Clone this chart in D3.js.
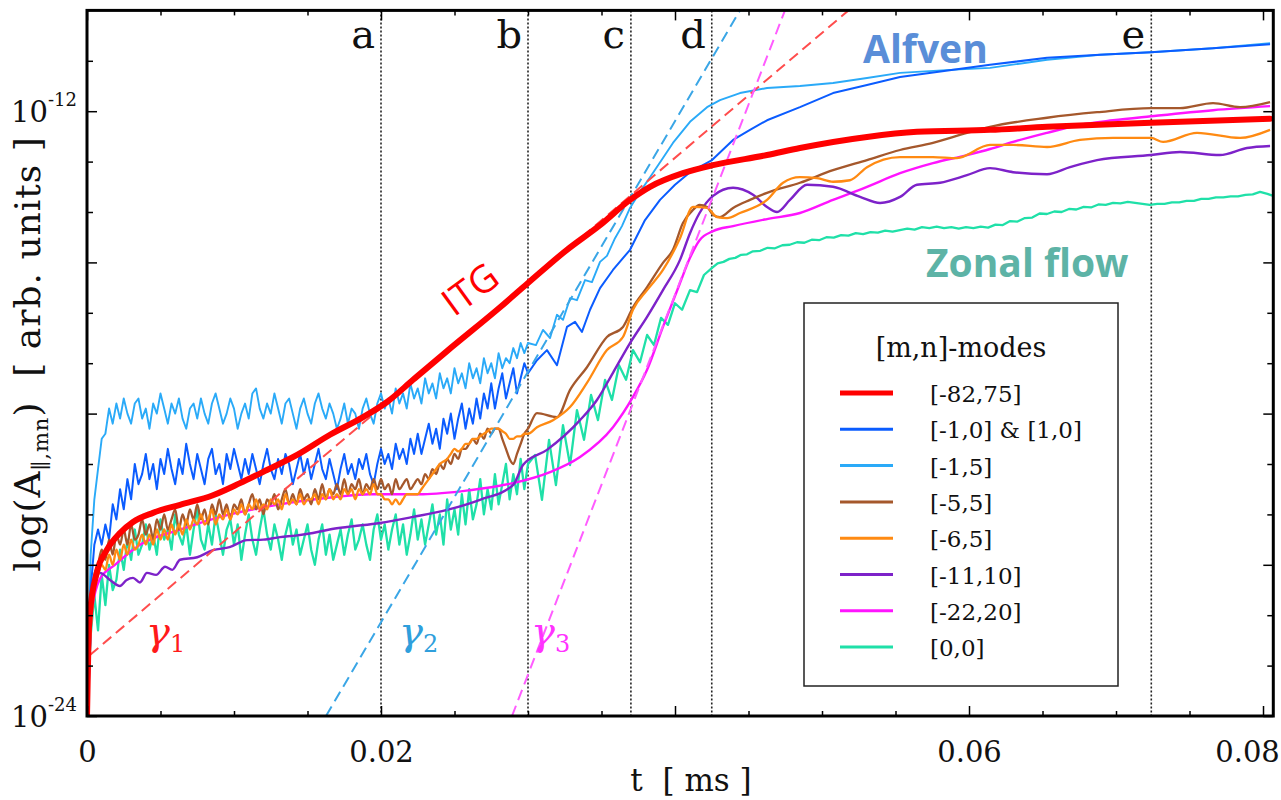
<!DOCTYPE html>
<html><head><meta charset="utf-8">
<script src="https://cdn.jsdelivr.net/npm/d3@7"></script>
<style>body{margin:0;background:#fff;} svg{display:block;}</style>
</head><body>
<svg id="chart" width="1281" height="800"></svg>
<script>
// ---------------- DATA (t in ms, values as log10 of A) ----------------
const tFine = [
0,0.00025,0.0005,0.00075,0.001,0.00125,0.0015,0.00175,0.002,0.00225,
0.0025,0.00275,0.003,0.00325,0.0035,0.00375,0.004,0.00425,0.0045,0.00475,
0.005,0.00525,0.0055,0.00575,0.006,0.00625,0.0065,0.00675,0.007,0.00725,
0.0075,0.00775,0.008,0.00825,0.0085,0.00875,0.009,0.00925,0.0095,0.00975,
0.01,0.01025,0.0105,0.01075,0.011,0.01125,0.0115,0.01175,0.012,0.01225,
0.0125,0.01275,0.013,0.01325,0.0135,0.01375,0.014,0.01425,0.0145,0.01475,
0.015,0.01525,0.0155,0.01575,0.016,0.01625,0.0165,0.01675,0.017,0.01725,
0.0175,0.01775,0.018,0.01825,0.0185,0.01875,0.019,0.01925,0.0195,0.01975,
0.02,0.02025,0.0205,0.02075,0.021,0.02125,0.0215,0.02175,0.022,0.02225,
0.0225,0.02275,0.023,0.02325,0.0235,0.02375,0.024,0.02425,0.0245,0.02475,
0.025,0.02525,0.0255,0.02575,0.026,0.02625,0.0265,0.02675,0.027,0.02725,
0.0275,0.02775,0.028,0.02825,0.0285,0.02875,0.029,0.02925,0.0295,0.02975,
0.03];

const lightBlueEarly = [
-24.0,-20.8,-19.7,-19.1,-18.5,-18.4,-17.9,-18.2,-17.8,-18.1,
-17.7,-18.0,-18.2,-17.8,-17.7,-18.1,-17.9,-18.3,-17.8,-18.0,
-17.6,-17.9,-18.2,-17.8,-18.0,-17.7,-18.1,-18.3,-17.9,-17.8,
-18.1,-17.7,-18.0,-18.2,-17.8,-17.6,-17.9,-18.2,-18.0,-17.7,
-17.9,-18.3,-18.0,-17.8,-18.1,-17.6,-17.5,-17.9,-18.1,-17.8,
-18.0,-17.6,-17.9,-18.2,-17.8,-17.7,-18.0,-18.3,-17.9,-17.7,
-18.0,-18.2,-17.8,-17.6,-17.9,-18.1,-17.8,-18.0,-18.3,-18.1,
-17.8,-18.2,-17.9,-18.0,-18.3,-17.9,-17.7,-18.0,-18.2,-17.8,
-17.6,-17.9,-17.7,-18.0,-17.5,-17.8,-17.6,-17.9,-17.4,-17.7,
-17.5,-17.8,-17.3,-17.6,-17.4,-17.7,-17.2,-17.5,-17.3,-17.6,
-17.1,-17.4,-17.2,-17.5,-17.0,-17.3,-17.1,-17.4,-16.9,-17.2,
-17.0,-17.3,-16.8,-17.1,-16.9,-17.0,-16.7,-16.9,-16.6,-16.8,
-16.6];
const lightBlueLate = [[0.03054,-16.64],[0.03102,-16.34],[0.0315,-16.50],[0.03197,-16.04],[0.03238,-16.14],[0.03286,-15.71],[0.03333,-15.75],[0.03388,-15.35],[0.03435,-15.39],[0.0349,-14.99],[0.03537,-14.87],[0.03592,-14.52],[0.03639,-14.28],[0.03694,-13.92],[0.03762,-13.60],[0.0383,-13.31],[0.03918,-12.93],[0.03986,-12.63],[0.04102,-12.21],[0.04218,-11.92],[0.04306,-11.78],[0.04442,-11.64],[0.04626,-11.54],[0.0485,-11.50],[0.05075,-11.44],[0.05306,-11.34],[0.05531,-11.24],[0.05871,-11.18],[0.06143,-11.14],[0.06531,-10.98],[0.06891,-10.88],[0.07238,-10.83],[0.0766,-10.75],[0.08048,-10.65]];

const blueEarly = [
-24.0,-21.5,-20.6,-20.3,-20.6,-20.2,-20.5,-19.8,-20.1,-19.5,
-19.9,-19.3,-19.7,-19.0,-19.4,-19.2,-18.8,-19.3,-19.0,-19.5,
-18.9,-19.2,-18.7,-19.1,-19.4,-18.9,-19.2,-18.6,-19.0,-19.3,
-18.8,-19.1,-19.4,-18.9,-18.7,-19.2,-19.0,-19.4,-18.8,-19.1,
-18.7,-19.0,-19.3,-18.9,-19.2,-18.8,-19.1,-19.4,-19.0,-18.7,
-19.1,-19.3,-18.9,-19.2,-18.8,-19.0,-19.4,-19.1,-18.8,-19.2,
-18.9,-19.3,-19.0,-18.7,-19.1,-19.3,-18.9,-19.2,-19.5,-19.1,
-18.8,-19.2,-19.0,-19.3,-18.9,-19.1,-18.8,-19.2,-19.4,-19.0,
-18.7,-19.0,-18.8,-19.1,-18.6,-18.9,-18.7,-19.0,-18.5,-18.8,
-18.4,-18.8,-18.5,-18.2,-18.6,-18.3,-18.7,-18.1,-18.4,-18.0,
-18.5,-18.1,-17.8,-18.3,-17.9,-18.2,-17.7,-18.1,-17.6,-17.9,
-17.4,-17.9,-17.5,-17.2,-17.7,-17.4,-17.1,-17.6,-17.3,-17.0,
-17.2];
const blueLate = [[0.03061,-16.94],[0.03129,-16.74],[0.03197,-17.04],[0.03265,-16.28],[0.0332,-16.18],[0.03367,-16.38],[0.03422,-15.94],[0.0349,-15.51],[0.03578,-15.15],[0.03694,-14.75],[0.03796,-14.16],[0.03898,-13.76],[0.04,-13.46],[0.04102,-13.21],[0.04252,-12.97],[0.04395,-12.57],[0.0451,-12.37],[0.04626,-12.18],[0.0485,-11.92],[0.05075,-11.64],[0.05306,-11.48],[0.05531,-11.32],[0.06143,-11.08],[0.06531,-10.94],[0.06891,-10.88],[0.07238,-10.83],[0.0766,-10.75],[0.08048,-10.67]];

const brownEarly = [
-24.0,-22.0,-21.2,-21.0,-20.7,-20.9,-20.5,-20.8,-20.4,-20.6,
-20.3,-20.6,-20.2,-20.5,-20.4,-20.1,-20.4,-20.2,-20.5,-20.1,
-20.3,-20.0,-20.3,-20.1,-19.9,-20.3,-20.0,-20.2,-19.9,-20.1,
-19.8,-20.1,-19.9,-20.2,-19.8,-20.0,-19.7,-20.0,-19.8,-20.1,
-19.8,-19.9,-19.7,-20.0,-19.8,-19.6,-19.9,-19.7,-20.0,-19.7,
-19.8,-19.6,-19.9,-19.7,-19.5,-19.8,-19.6,-19.8,-19.5,-19.7,
-19.6,-19.8,-19.5,-19.7,-19.4,-19.7,-19.5,-19.6,-19.4,-19.6,
-19.3,-19.6,-19.4,-19.5,-19.3,-19.6,-19.4,-19.5,-19.3,-19.5,
-19.3,-19.5,-19.4,-19.6,-19.3,-19.5,-19.4,-19.3,-19.5,-19.4,
-19.3,-19.4,-19.2,-19.3,-19.1,-19.2,-19.0,-19.1,-18.9,-19.0,
-18.8,-18.9,-18.7,-18.7,-18.6,-18.5,-18.6,-18.4,-18.5,-18.3,
-18.4,-18.3,-18.3,-18.5,-18.7,-18.9,-19.0,-18.8,-18.6,-18.4,
-18.3];
const brownLate = [[0.03061,-17.99],[0.03197,-18.07],[0.03286,-17.53],[0.03401,-17.08],[0.03537,-16.48],[0.03646,-16.28],[0.03714,-15.89],[0.0381,-15.49],[0.03918,-15.01],[0.03986,-14.75],[0.04054,-14.22],[0.04122,-13.96],[0.04167,-13.86],[0.04218,-13.90],[0.04259,-14.06],[0.04306,-14.10],[0.04395,-13.92],[0.0451,-13.76],[0.04626,-13.62],[0.0485,-13.42],[0.05075,-13.17],[0.05306,-12.97],[0.05531,-12.77],[0.05755,-12.63],[0.05986,-12.43],[0.06143,-12.31],[0.06531,-12.13],[0.06871,-12.02],[0.07238,-11.94],[0.07435,-11.94],[0.0766,-11.84],[0.07844,-11.92],[0.08048,-11.82]];

const orangeEarly = [
-24.0,-22.3,-21.5,-21.2,-21.0,-21.1,-20.8,-21.0,-20.7,-20.9,
-20.6,-20.8,-20.5,-20.7,-20.6,-20.4,-20.6,-20.4,-20.6,-20.3,
-20.5,-20.3,-20.5,-20.2,-20.4,-20.2,-20.4,-20.1,-20.3,-20.1,
-20.2,-20.0,-20.2,-20.1,-19.9,-20.2,-20.0,-20.1,-19.9,-20.1,
-19.9,-20.0,-19.8,-20.0,-19.8,-19.9,-19.7,-19.9,-19.8,-19.9,
-19.7,-19.8,-19.7,-19.9,-19.6,-19.8,-19.7,-19.8,-19.6,-19.8,
-19.7,-19.7,-19.6,-19.8,-19.6,-19.7,-19.5,-19.7,-19.6,-19.7,
-19.5,-19.6,-19.5,-19.7,-19.5,-19.6,-19.5,-19.6,-19.4,-19.6,
-19.6,-19.7,-19.7,-19.8,-19.7,-19.8,-19.7,-19.6,-19.6,-19.6,
-19.6,-19.5,-19.4,-19.3,-19.2,-19.1,-19.0,-18.95,-18.9,-18.8,
-18.7,-18.75,-18.7,-18.6,-18.6,-18.5,-18.5,-18.45,-18.4,-18.35,
-18.3,-18.3,-18.3,-18.35,-18.4,-18.5,-18.5,-18.45,-18.45,-18.4,
-18.4];
const orangeLate = [[0.03061,-18.27],[0.0317,-18.13],[0.03286,-17.87],[0.03401,-17.39],[0.03537,-16.74],[0.03646,-16.48],[0.03714,-15.94],[0.0381,-15.55],[0.03918,-15.15],[0.04034,-14.52],[0.04122,-13.90],[0.04218,-13.92],[0.04286,-14.10],[0.04354,-14.12],[0.04442,-14.02],[0.04626,-13.76],[0.04735,-13.42],[0.0485,-13.31],[0.04966,-13.33],[0.05075,-13.40],[0.0519,-13.37],[0.05306,-13.11],[0.05531,-12.91],[0.05755,-12.91],[0.05918,-12.93],[0.06143,-12.67],[0.063,-12.67],[0.06531,-12.71],[0.06755,-12.57],[0.0698,-12.53],[0.07238,-12.53],[0.0732,-12.61],[0.07551,-12.43],[0.07844,-12.53],[0.08048,-12.37]];

const tealEarly = [
-24.0,-22.4,-21.6,-22.3,-21.2,-21.8,-21.0,-21.5,-21.3,-20.7,
-21.1,-20.5,-20.9,-20.3,-20.8,-20.6,-20.2,-20.7,-20.4,-20.8,
-20.1,-20.5,-20.3,-20.7,-20.0,-20.4,-20.6,-20.2,-20.8,-20.3,
-19.9,-20.5,-20.7,-20.2,-20.6,-20.0,-20.4,-20.8,-20.3,-20.1,
-20.6,-20.2,-20.9,-20.4,-20.0,-20.5,-20.8,-20.3,-19.9,-20.4,
-20.7,-20.2,-20.5,-20.9,-20.4,-20.1,-20.6,-20.3,-20.8,-20.5,
-20.2,-20.7,-21.0,-20.5,-20.2,-20.8,-20.4,-20.9,-20.6,-20.3,
-20.8,-20.4,-20.1,-20.7,-20.5,-20.2,-20.6,-20.9,-20.3,-20.0,
-20.5,-20.2,-20.7,-20.3,-20.0,-20.6,-20.2,-20.8,-20.4,-19.9,
-20.5,-20.1,-20.6,-20.2,-19.8,-20.4,-20.0,-20.6,-19.7,-20.3,
-19.9,-20.4,-19.6,-20.2,-19.5,-20.1,-19.8,-19.3,-20.0,-19.5,
-19.9,-19.2,-19.8,-19.4,-19.0,-19.7,-19.2,-19.6,-18.9,-19.5,
-19.0];
const tealLate = [[0.03048,-18.82],[0.03095,-19.71],[0.03143,-18.52],[0.0319,-19.42],[0.03238,-18.23],[0.03286,-19.02],[0.03333,-17.93],[0.03381,-18.52],[0.03429,-17.63],[0.03476,-18.13],[0.03524,-17.33],[0.03571,-17.73],[0.03619,-17.04],[0.03667,-17.33],[0.03714,-16.74],[0.03762,-16.98],[0.0381,-16.44],[0.03857,-16.64],[0.03905,-16.10],[0.03952,-16.24],[0.04,-15.81],[0.04048,-15.94],[0.04102,-15.55],[0.0415,-15.59],[0.04197,-15.25],[0.04252,-15.11],
[0.0429,-15.02],[0.0433,-14.99],[0.0437,-14.93],[0.0441,-14.91],[0.0445,-14.85],[0.0449,-14.84],[0.0453,-14.78],[0.0458,-14.77],[0.0463,-14.71],[0.0468,-14.72],[0.0473,-14.66],[0.0478,-14.65],[0.0483,-14.60],[0.0488,-14.61],[0.0493,-14.55],[0.0498,-14.56],[0.0503,-14.50],[0.0508,-14.51],[0.0513,-14.46],[0.0518,-14.47],[0.0523,-14.42],[0.0528,-14.44],[0.0533,-14.40],[0.0538,-14.41],[0.0543,-14.37],[0.0548,-14.39],[0.0553,-14.36],[0.0558,-14.33],[0.0563,-14.35],[0.0568,-14.30],[0.0573,-14.32],[0.0578,-14.29],[0.0583,-14.32],[0.0588,-14.30],[0.0593,-14.33],[0.0598,-14.30],[0.0603,-14.32],[0.0608,-14.29],[0.0613,-14.31],[0.0618,-14.25],[0.0623,-14.26],[0.0628,-14.18],[0.0633,-14.19],[0.0638,-14.12],[0.0643,-14.11],[0.0648,-14.03],[0.0653,-14.04],[0.0658,-13.99],[0.0663,-14.00],[0.0668,-13.94],[0.0673,-13.95],[0.0678,-13.90],[0.0683,-13.91],[0.0688,-13.85],[0.0693,-13.86],[0.0698,-13.82],[0.0703,-13.83],[0.0708,-13.80],[0.0713,-13.82],[0.0718,-13.84],[0.0723,-13.86],[0.0728,-13.84],[0.0733,-13.84],[0.0738,-13.81],[0.0743,-13.81],[0.0748,-13.78],[0.0753,-13.78],[0.0758,-13.74],[0.0763,-13.74],[0.0768,-13.71],[0.0773,-13.71],[0.0778,-13.69],[0.0783,-13.69],[0.0788,-13.66],[0.0793,-13.65],[0.0798,-13.60],[0.0803,-13.64],[0.0807,-13.68]];

const itg = [[0,-24],[0.0001,-22.49],[0.0002,-21.96],[0.00066,-21.16],[0.00134,-20.71],[0.00224,-20.37],[0.00313,-20.15],[0.00449,-19.97],[0.00633,-19.81],[0.00857,-19.62],[0.01041,-19.38],[0.01224,-19.12],[0.01429,-18.82],[0.01653,-18.42],[0.01878,-18.07],[0.02041,-17.77],[0.02218,-17.33],[0.02449,-16.76],[0.0281,-15.89],[0.03,-15.41],[0.03265,-14.75],[0.0349,-14.26],[0.03694,-13.76],[0.0383,-13.50],[0.04054,-13.23],[0.04259,-13.07],[0.04626,-12.87],[0.0485,-12.73],[0.05306,-12.51],[0.05646,-12.41],[0.06143,-12.37],[0.06531,-12.31],[0.07238,-12.23],[0.08048,-12.15]];

const purple = [[0,-24],[0.00007,-23.68],[0.00034,-21.70],[0.00088,-21.16],[0.00156,-21.30],[0.00224,-21.42],[0.0027,-21.30],[0.00313,-21.26],[0.0036,-21.35],[0.00408,-21.16],[0.0047,-21.2],[0.00531,-21.04],[0.0058,-21.1],[0.00633,-20.90],[0.0075,-20.85],[0.00857,-20.71],[0.0097,-20.65],[0.01088,-20.51],[0.012,-20.5],[0.01313,-20.45],[0.0142,-20.42],[0.01537,-20.37],[0.0165,-20.3],[0.01769,-20.25],[0.01993,-20.17],[0.02218,-20.05],[0.02449,-19.91],[0.02673,-19.71],[0.02898,-19.42],[0.02966,-19.02],[0.03129,-18.72],[0.03354,-18.13],[0.03469,-17.73],[0.03578,-17.19],[0.03694,-16.60],[0.0381,-16.08],[0.03918,-15.55],[0.04034,-14.95],[0.04102,-14.42],[0.04167,-14.02],[0.04259,-13.68],[0.04395,-13.52],[0.04531,-13.66],[0.04626,-13.90],[0.04694,-14.00],[0.04782,-13.76],[0.04898,-13.46],[0.05075,-13.50],[0.05259,-13.70],[0.05395,-13.82],[0.05531,-13.70],[0.05646,-13.46],[0.05803,-13.42],[0.05986,-13.27],[0.06143,-13.13],[0.063,-13.21],[0.06531,-13.25],[0.06687,-13.11],[0.06871,-12.97],[0.07238,-12.87],[0.07435,-12.81],[0.07707,-12.87],[0.07891,-12.73],[0.08048,-12.69]];

const magenta = [[0,-24],[0.00007,-23.48],[0.00034,-21.90],[0.00088,-21.28],[0.0019,-21.0],[0.00361,-20.6],[0.00633,-20.3],[0.00973,-20.0],[0.01313,-19.8],[0.01673,-19.66],[0.01925,-19.6],[0.02286,-19.6],[0.02605,-19.52],[0.02898,-19.38],[0.0315,-19.16],[0.03354,-18.86],[0.03578,-18.27],[0.03714,-17.67],[0.0381,-17.13],[0.03918,-16.28],[0.04034,-15.41],[0.04102,-14.91],[0.04167,-14.56],[0.04259,-14.38],[0.04395,-14.28],[0.04626,-14.14],[0.0485,-14.02],[0.05075,-13.76],[0.05306,-13.50],[0.05531,-13.23],[0.05755,-13.03],[0.05986,-12.87],[0.06143,-12.75],[0.063,-12.61],[0.06531,-12.43],[0.06755,-12.27],[0.0698,-12.18],[0.07238,-12.10],[0.0766,-11.98],[0.08048,-11.90]];

// growth-rate fits (straight lines in log space): [t, log10 A]
const gamma1 = [[0.0002,-22.79],[0.0518,-10.0]];
const gamma2 = [[0.01626,-24.0],[0.04442,-10.0]];
const gamma3 = [[0.02891,-24.0],[0.04748,-10.0]];

const eventT = [0.02, 0.03, 0.037, 0.0425, 0.0724];
const eventLabels = ['a','b','c','d','e'];

const xMajorTicks = [0, 0.02, 0.04, 0.06, 0.08];
const xMinorTicks = [0.005,0.01,0.015,0.025,0.03,0.035,0.045,0.05,0.055,0.065,0.07,0.075];
const xLabelTicks = [0, 0.02, 0.06, 0.08];
const yMajorTicks = [1e-24, 1e-21, 1e-18, 1e-15, 1e-12];
const yMinorTicks = [1e-23, 1e-22, 1e-20, 1e-19, 1e-17, 1e-16, 1e-14, 1e-13, 1e-11];
const yLabelTicks = [[1e-24, '-24'], [1e-12, '-12']];

const legendLabels = ['[-82,75]','[-1,0] & [1,0]','[-1,5]','[-5,5]','[-6,5]','[-11,10]','[-22,20]','[0,0]'];
const legendColors = ['#ff0000','#0b5cff','#2aaaf8','#a5582c','#ff8a12','#7d22c9','#ff14ff','#1fe0a8'];

// ---------------- CHART ----------------
const svg = d3.select('#chart');
const serif = "'DejaVu Serif', serif";
const sans = "'Open Sans', sans-serif";
const P = e => Math.pow(10, e);

const x = d3.scaleLinear().domain([0, 0.0807]).range([87, 1273.3]);
const y = d3.scaleLog().domain([1e-24, 1e-10]).range([716, 10.4]);

svg.append('defs').append('clipPath').attr('id','clip').append('rect')
  .attr('x', x(0)).attr('y', y(1e-10)).attr('width', x(0.0807)-x(0)).attr('height', y(1e-24)-y(1e-10));

const plot = svg.append('g').attr('clip-path','url(#clip)');

plot.selectAll('line.ev').data(eventT).join('line').attr('class','ev')
  .attr('x1', d => x(d)).attr('x2', d => x(d))
  .attr('y1', y(1e-10)).attr('y2', y(1e-24))
  .attr('stroke','#222').attr('stroke-width',1.6).attr('stroke-dasharray','2,2');

const lineSmooth = d3.line().x(d => x(d[0])).y(d => y(P(d[1]))).curve(d3.curveMonotoneX);
const lineRaw = d3.line().x(d => x(d[0])).y(d => y(P(d[1])));
const withEarly = (vals, late) => tFine.map((t, i) => [t, vals[i]]).concat(late);

const series = [
  {d: withEarly(tealEarly, tealLate), c: legendColors[7], w: 2.3, f: lineRaw},
  {d: magenta, c: legendColors[6], w: 2.4, f: lineSmooth},
  {d: purple, c: legendColors[5], w: 2.4, f: lineSmooth},
  {d: withEarly(lightBlueEarly, lightBlueLate), c: legendColors[2], w: 1.9, f: lineRaw},
  {d: withEarly(blueEarly, blueLate), c: legendColors[1], w: 2, f: lineRaw},
  {d: withEarly(brownEarly, brownLate), c: legendColors[3], w: 2.3, f: lineSmooth},
  {d: withEarly(orangeEarly, orangeLate), c: legendColors[4], w: 2.3, f: lineSmooth}
];
series.forEach(s => {
  plot.append('path').attr('d', s.f(s.d)).attr('fill','none')
    .attr('stroke', s.c).attr('stroke-width', s.w).attr('stroke-linejoin','round');
});

[[gamma1,'#ff4d4d'],[gamma2,'#3aa6e6'],[gamma3,'#ff5cff']].forEach(([g,c]) => {
  plot.append('path').attr('d', lineRaw(g)).attr('fill','none')
    .attr('stroke', c).attr('stroke-width', 2).attr('stroke-dasharray','11,6');
});

plot.append('path').attr('d', lineSmooth(itg)).attr('fill','none')
  .attr('stroke', legendColors[0]).attr('stroke-width', 6).attr('stroke-linecap','round');

// ---------------- AXES ----------------
function styleAxis(g){
  g.select('.domain').remove();
  g.selectAll('.tick line').attr('stroke','#000').attr('stroke-width',1.5);
  g.attr('font-family', serif).attr('font-size', 29).attr('fill','#111');
  g.selectAll('.tick text').attr('fill','#111');
}
const fmtX = d => xLabelTicks.includes(d) ? (d === 0 ? '0' : d3.format('.2f')(d)) : '';
const xb = svg.append('g').attr('transform',`translate(0,${y(1e-24)})`)
  .call(d3.axisBottom(x).tickValues(xMajorTicks).tickSize(-10).tickPadding(25).tickFormat(fmtX)).call(styleAxis);
xb.selectAll('.tick text').filter(d => d === 0.08).attr('dx', -16);
svg.append('g').attr('transform',`translate(0,${y(1e-24)})`)
  .call(d3.axisBottom(x).tickValues(xMinorTicks).tickSize(-5).tickFormat('')).call(styleAxis);
svg.append('g').attr('transform',`translate(0,${y(1e-10)})`)
  .call(d3.axisTop(x).tickValues(xMajorTicks).tickSize(-10).tickFormat('')).call(styleAxis);
svg.append('g').attr('transform',`translate(0,${y(1e-10)})`)
  .call(d3.axisTop(x).tickValues(xMinorTicks).tickSize(-5).tickFormat('')).call(styleAxis);
svg.append('g').attr('transform',`translate(${x(0)},0)`)
  .call(d3.axisLeft(y).tickValues(yMajorTicks).tickSize(-10).tickFormat('')).call(styleAxis);
svg.append('g').attr('transform',`translate(${x(0)},0)`)
  .call(d3.axisLeft(y).tickValues(yMinorTicks).tickSize(-6).tickFormat('')).call(styleAxis);
svg.append('g').attr('transform',`translate(${x(0.0807)},0)`)
  .call(d3.axisRight(y).tickValues(yMajorTicks).tickSize(-10).tickFormat('')).call(styleAxis);
svg.append('g').attr('transform',`translate(${x(0.0807)},0)`)
  .call(d3.axisRight(y).tickValues(yMinorTicks).tickSize(-6).tickFormat('')).call(styleAxis);

svg.append('rect').attr('x', x(0)).attr('y', y(1e-10))
  .attr('width', x(0.0807)-x(0)).attr('height', y(1e-24)-y(1e-10))
  .attr('fill','none').attr('stroke','#000').attr('stroke-width',3);

yLabelTicks.forEach(([v, ex]) => {
  const t = svg.append('text').attr('x', 77).attr('y', y(v) + 11)
    .attr('text-anchor','end').attr('font-family', serif).attr('font-size', 29).attr('fill','#111');
  t.append('tspan').text('10');
  t.append('tspan').attr('font-size', 18).attr('dy', -16).text(ex);
});

svg.append('text').attr('x', 691).attr('y', 791).attr('text-anchor','middle')
  .attr('font-family', serif).attr('font-size', 31).attr('fill','#111')
  .style('white-space','pre').text('t  [ ms ]');
const yl = svg.append('text').attr('transform','translate(40,354) rotate(-90)')
  .attr('text-anchor','middle').attr('font-family', serif).attr('font-size', 36)
  .attr('letter-spacing', 1).attr('fill','#111').style('white-space','pre');
yl.append('tspan').text('log(A');
yl.append('tspan').attr('font-size', 21).attr('dy', 8).text('\u2225,mn');
yl.append('tspan').attr('dy', -8).text(')  [ arb. units ]');

svg.selectAll('text.evl').data(eventT).join('text').attr('class','evl')
  .attr('x', d => x(d) - 6).attr('y', 48).attr('text-anchor','end')
  .attr('font-family', serif).attr('font-size', 40).attr('fill','#111')
  .text((d, i) => eventLabels[i]);

svg.append('text').attr('transform','translate(478,300) rotate(-36)')
  .attr('text-anchor','middle').attr('font-family', sans).attr('font-size', 38)
  .attr('fill','#ff0000').text('ITG');
svg.append('text').attr('x', 863).attr('y', 63).attr('font-family', sans)
  .attr('font-weight', 700).attr('font-size', 39).attr('fill','#5a8ed8').text('Alfven');
svg.append('text').attr('x', 926).attr('y', 277).attr('font-family', sans)
  .attr('font-weight', 700).attr('font-size', 39).attr('fill','#5db3a6').text('Zonal flow');

[[146,'1','#ff1a1a'],[399,'2','#2f9fdc'],[531,'3','#ff33ff']].forEach(([gx, sub, c]) => {
  const t = svg.append('text').attr('x', gx).attr('y', 645).attr('fill', c)
    .attr('font-family', serif).attr('font-size', 40);
  t.append('tspan').attr('font-style','italic').text('\u03b3');
  t.append('tspan').attr('font-size', 24).attr('dy', 7).text(sub);
});

// ---------------- LEGEND ----------------
const lg = svg.append('g');
lg.append('rect').attr('x', 804).attr('y', 303).attr('width', 314).attr('height', 383)
  .attr('fill','#fff').attr('stroke','#222').attr('stroke-width',1.5);
lg.append('text').attr('x', 961).attr('y', 357).attr('text-anchor','middle')
  .attr('font-family', serif).attr('font-size', 27).attr('fill','#111').text('[m,n]-modes');
legendLabels.forEach((lab, i) => {
  const yy = 393 + i * 36.3;
  lg.append('line').attr('x1', 840).attr('x2', 893).attr('y1', yy).attr('y2', yy)
    .attr('stroke', legendColors[i]).attr('stroke-width', i === 0 ? 5 : 3);
  lg.append('text').attr('x', 930).attr('y', yy + 9).attr('font-family', serif)
    .attr('font-size', 23).attr('fill','#111').text(lab);
});
</script>
</body></html>
